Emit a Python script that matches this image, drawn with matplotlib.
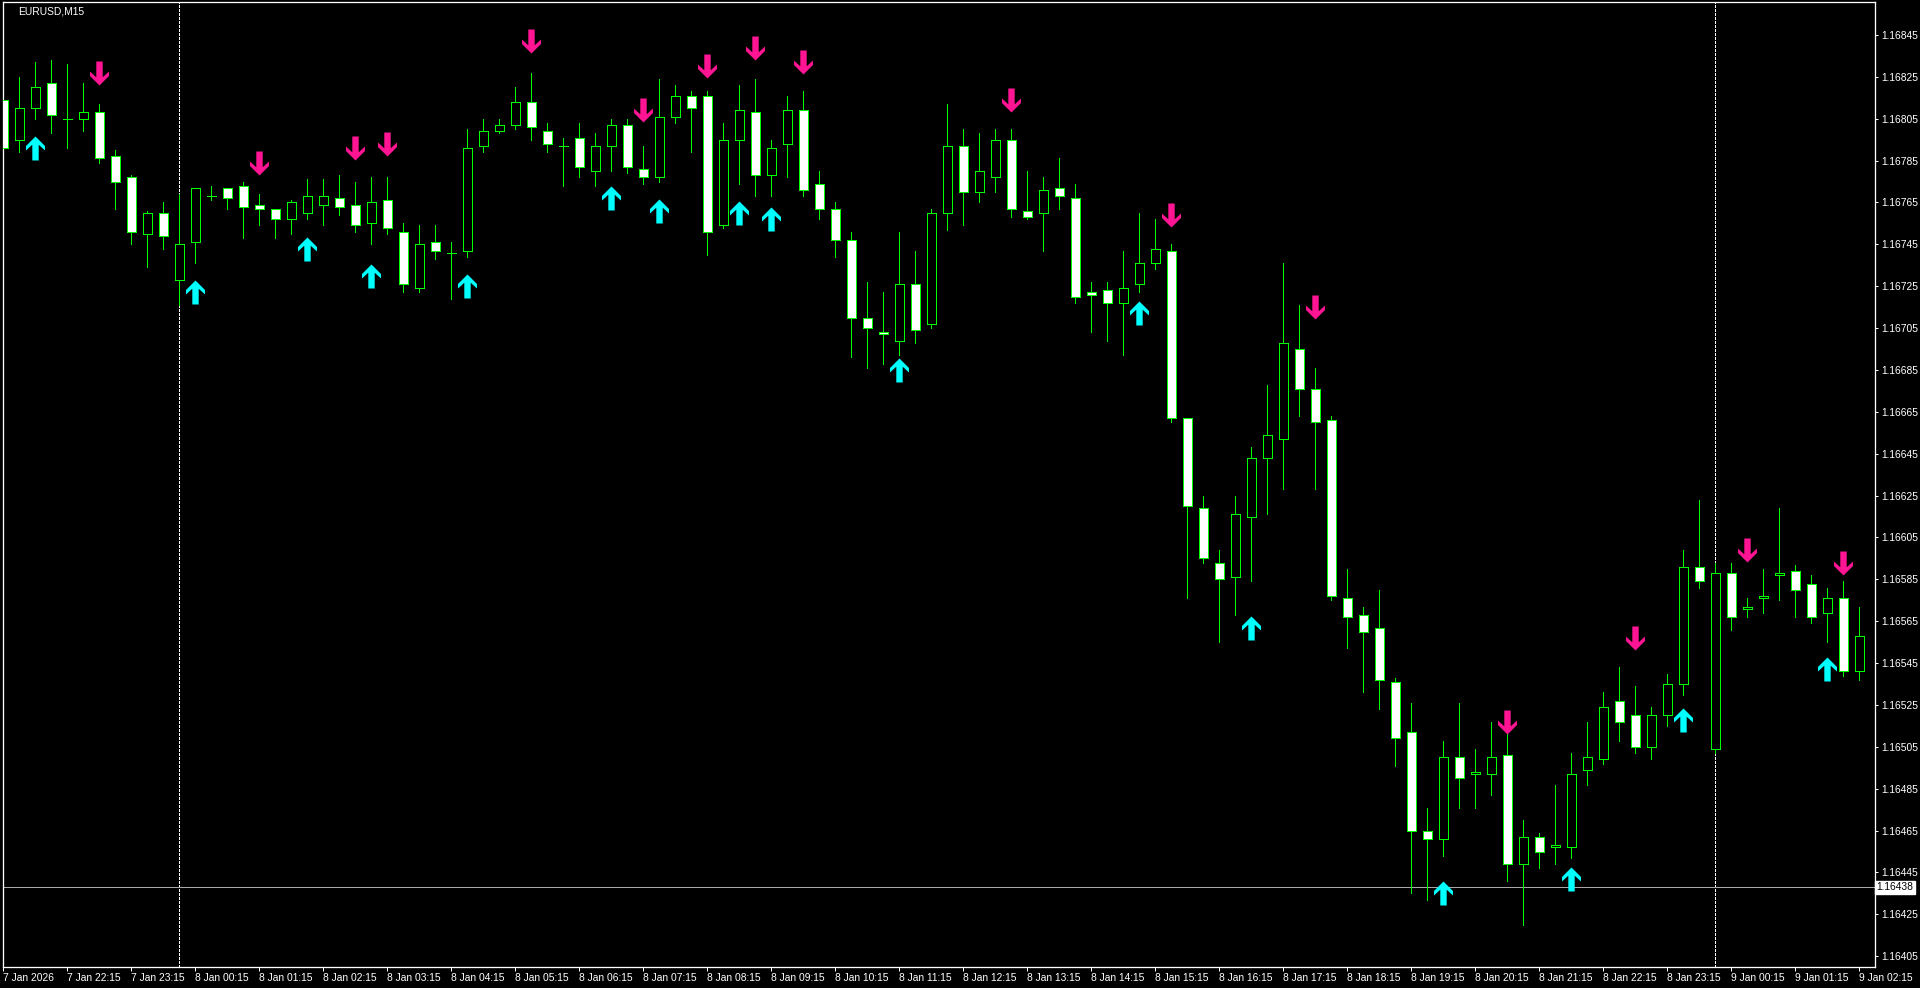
import matplotlib
matplotlib.use('Agg')
import matplotlib.pyplot as plt
import matplotlib.transforms as mtransforms
from matplotlib.patches import Rectangle
from matplotlib.path import Path

# EURUSD M15, 7 Jan 2026 21:15 .. 9 Jan 2026 02:15 (one value per bar)
opens = [
    1.16814, 1.16795, 1.16810, 1.16822, 1.16805, 1.16805, 1.16808, 1.16787, 1.16777, 1.16750,
    1.16760, 1.16728, 1.16746, 1.16768, 1.16772, 1.16773, 1.16764, 1.16762, 1.16757, 1.16760,
    1.16764, 1.16767, 1.16764, 1.16755, 1.16766, 1.16751, 1.16724, 1.16746, 1.16741, 1.16742,
    1.16792, 1.16799, 1.16802, 1.16813, 1.16799, 1.16792, 1.16796, 1.16780, 1.16792, 1.16802,
    1.16781, 1.16777, 1.16806, 1.16816, 1.16816, 1.16754, 1.16795, 1.16808, 1.16778, 1.16793,
    1.16809, 1.16774, 1.16762, 1.16747, 1.16710, 1.16703, 1.16699, 1.16726, 1.16707, 1.16760,
    1.16792, 1.16770, 1.16777, 1.16795, 1.16761, 1.16760, 1.16772, 1.16767, 1.16722, 1.16723,
    1.16717, 1.16726, 1.16736, 1.16742, 1.16662, 1.16619, 1.16593, 1.16586, 1.16615, 1.16643,
    1.16652, 1.16695, 1.16676, 1.16661, 1.16576, 1.16568, 1.16562, 1.16536, 1.16512, 1.16465,
    1.16461, 1.16500, 1.16492, 1.16492, 1.16501, 1.16449, 1.16462, 1.16457, 1.16457, 1.16494,
    1.16499, 1.16527, 1.16520, 1.16505, 1.16520, 1.16535, 1.16591, 1.16504, 1.16588, 1.16571,
    1.16576, 1.16587, 1.16589, 1.16583, 1.16569, 1.16576, 1.16541]
highs = [
    1.16816, 1.16825, 1.16832, 1.16833, 1.16831, 1.16822, 1.16812, 1.16790, 1.16778, 1.16761,
    1.16765, 1.16769, 1.16772, 1.16773, 1.16772, 1.16775, 1.16769, 1.16762, 1.16766, 1.16776,
    1.16776, 1.16778, 1.16775, 1.16777, 1.16777, 1.16755, 1.16754, 1.16754, 1.16746, 1.16800,
    1.16805, 1.16805, 1.16820, 1.16827, 1.16803, 1.16796, 1.16803, 1.16798, 1.16805, 1.16805,
    1.16792, 1.16824, 1.16821, 1.16818, 1.16818, 1.16803, 1.16821, 1.16824, 1.16795, 1.16816,
    1.16818, 1.16780, 1.16765, 1.16751, 1.16727, 1.16722, 1.16751, 1.16742, 1.16762, 1.16812,
    1.16800, 1.16798, 1.16800, 1.16800, 1.16780, 1.16777, 1.16786, 1.16774, 1.16727, 1.16727,
    1.16742, 1.16760, 1.16757, 1.16745, 1.16662, 1.16625, 1.16599, 1.16625, 1.16648, 1.16678,
    1.16736, 1.16716, 1.16686, 1.16663, 1.16590, 1.16572, 1.16580, 1.16538, 1.16526, 1.16476,
    1.16508, 1.16526, 1.16504, 1.16517, 1.16511, 1.16470, 1.16464, 1.16487, 1.16502, 1.16517,
    1.16531, 1.16543, 1.16534, 1.16524, 1.16540, 1.16599, 1.16623, 1.16593, 1.16593, 1.16576,
    1.16590, 1.16619, 1.16592, 1.16587, 1.16581, 1.16584, 1.16572]
lows = [
    1.16783, 1.16789, 1.16805, 1.16798, 1.16791, 1.16799, 1.16784, 1.16762, 1.16745, 1.16734,
    1.16743, 1.16716, 1.16736, 1.16766, 1.16762, 1.16748, 1.16754, 1.16748, 1.16750, 1.16757,
    1.16754, 1.16759, 1.16751, 1.16745, 1.16750, 1.16722, 1.16722, 1.16738, 1.16719, 1.16739,
    1.16789, 1.16798, 1.16800, 1.16795, 1.16789, 1.16773, 1.16777, 1.16773, 1.16780, 1.16779,
    1.16774, 1.16775, 1.16803, 1.16789, 1.16740, 1.16753, 1.16774, 1.16768, 1.16768, 1.16777,
    1.16768, 1.16757, 1.16739, 1.16691, 1.16686, 1.16688, 1.16692, 1.16698, 1.16705, 1.16752,
    1.16754, 1.16765, 1.16770, 1.16758, 1.16757, 1.16742, 1.16762, 1.16717, 1.16703, 1.16699,
    1.16692, 1.16722, 1.16733, 1.16660, 1.16576, 1.16593, 1.16555, 1.16568, 1.16584, 1.16616,
    1.16628, 1.16663, 1.16628, 1.16575, 1.16552, 1.16531, 1.16523, 1.16496, 1.16435, 1.16432,
    1.16453, 1.16476, 1.16476, 1.16482, 1.16441, 1.16420, 1.16447, 1.16449, 1.16452, 1.16487,
    1.16497, 1.16508, 1.16502, 1.16499, 1.16515, 1.16530, 1.16581, 1.16502, 1.16561, 1.16567,
    1.16569, 1.16575, 1.16567, 1.16564, 1.16555, 1.16539, 1.16537]
closes = [
    1.16791, 1.16810, 1.16820, 1.16807, 1.16805, 1.16808, 1.16786, 1.16775, 1.16751, 1.16760,
    1.16749, 1.16745, 1.16772, 1.16768, 1.16767, 1.16763, 1.16762, 1.16757, 1.16765, 1.16768,
    1.16768, 1.16763, 1.16754, 1.16765, 1.16753, 1.16726, 1.16745, 1.16742, 1.16741, 1.16791,
    1.16799, 1.16802, 1.16813, 1.16801, 1.16793, 1.16792, 1.16782, 1.16792, 1.16802, 1.16782,
    1.16777, 1.16806, 1.16816, 1.16810, 1.16751, 1.16795, 1.16809, 1.16778, 1.16791, 1.16809,
    1.16771, 1.16762, 1.16747, 1.16710, 1.16705, 1.16702, 1.16726, 1.16704, 1.16760, 1.16792,
    1.16770, 1.16780, 1.16795, 1.16762, 1.16758, 1.16771, 1.16768, 1.16720, 1.16721, 1.16717,
    1.16724, 1.16736, 1.16743, 1.16662, 1.16620, 1.16595, 1.16585, 1.16616, 1.16643, 1.16654,
    1.16698, 1.16676, 1.16660, 1.16577, 1.16567, 1.16560, 1.16537, 1.16509, 1.16465, 1.16461,
    1.16500, 1.16490, 1.16493, 1.16500, 1.16449, 1.16462, 1.16455, 1.16458, 1.16492, 1.16500,
    1.16524, 1.16517, 1.16505, 1.16520, 1.16535, 1.16591, 1.16584, 1.16588, 1.16567, 1.16572,
    1.16577, 1.16588, 1.16580, 1.16567, 1.16576, 1.16541, 1.16558]

# signal arrows: bar index and price level
sell_bars = [6, 16, 22, 24, 33, 40, 44, 47, 50, 63, 73, 82, 94, 102, 109, 115]
sell_price = [1.16827, 1.16784, 1.16791, 1.16793, 1.16842, 1.16809, 1.16830, 1.16839,
              1.16832, 1.16814, 1.16759, 1.16715, 1.16517, 1.16557, 1.16599, 1.16593]
buy_bars = [2, 12, 19, 23, 29, 38, 41, 46, 48, 56, 71, 78, 90, 98, 105, 114]
buy_price = [1.16791, 1.16722, 1.16743, 1.16730, 1.16725, 1.16767, 1.16761, 1.16760,
             1.16757, 1.16685, 1.16712, 1.16562, 1.16435, 1.16442, 1.16518, 1.16542]

time_labels = ['7 Jan 2026', '7 Jan 22:15', '7 Jan 23:15', '8 Jan 00:15', '8 Jan 01:15',
               '8 Jan 02:15', '8 Jan 03:15', '8 Jan 04:15', '8 Jan 05:15', '8 Jan 06:15',
               '8 Jan 07:15', '8 Jan 08:15', '8 Jan 09:15', '8 Jan 10:15', '8 Jan 11:15',
               '8 Jan 12:15', '8 Jan 13:15', '8 Jan 14:15', '8 Jan 15:15', '8 Jan 16:15',
               '8 Jan 17:15', '8 Jan 18:15', '8 Jan 19:15', '8 Jan 20:15', '8 Jan 21:15',
               '8 Jan 22:15', '8 Jan 23:15', '9 Jan 00:15', '9 Jan 01:15', '9 Jan 02:15']
price_ticks = [1.16405, 1.16425, 1.16445, 1.16465, 1.16485, 1.16505, 1.16525, 1.16545,
               1.16565, 1.16585, 1.16605, 1.16625, 1.16645, 1.16665, 1.16685, 1.16705,
               1.16725, 1.16745, 1.16765, 1.16785, 1.16805, 1.16825, 1.16845]
day_starts = [11, 107]   # 8 Jan 00:00, 9 Jan 00:00
hline_price = 1.16438

W, H = 1920, 988
PX = 0.72  # one pixel in points at dpi 100
GREEN = '#00FF00'
FS = 7.4

plt.rcParams['font.family'] = ['Liberation Sans', 'DejaVu Sans']
fig = plt.figure(figsize=(W / 100, H / 100), dpi=100, facecolor='black')
ax = fig.add_axes([2.5 / W, 1 - 966.7 / H, (1874.7 - 2.5) / W, (966.7 - 2.3) / H])
ax.set_facecolor('black')
ax.set_xlim(-0.05, 116.96)
ax.set_ylim(1.16400, 1.168606)

bw = 9 / 16
for i in range(len(opens)):
    o, h, l, c = opens[i], highs[i], lows[i], closes[i]
    ax.vlines(i, l, h, color=GREEN, lw=PX, zorder=2, antialiased=False)
    if abs(c - o) < 1e-7:
        ax.hlines(o, i - bw / 2, i + bw / 2, color=GREEN, lw=PX, zorder=3, antialiased=False)
    else:
        face = 'black' if c > o else 'white'
        ax.add_patch(Rectangle((i - bw / 2, min(o, c)), bw, abs(c - o), facecolor=face,
                               edgecolor=GREEN, lw=PX, zorder=3, antialiased=False))

for d in day_starts:
    ax.axvline(d, color='white', lw=1.4 * PX, ls=(0, (3.5 * PX / 1.4, 2.5 * PX / 1.4)),
               zorder=1, antialiased=False)
ax.axhline(hline_price, color='#A8A8A8', lw=PX, zorder=1)

up_verts = [(0, 12), (9.5, 2.5), (9.5, -2), (3.2, 3.8), (3.2, -12), (-3.2, -12),
            (-3.2, 3.8), (-9.5, -2), (-9.5, 2.5), (0, 12)]
codes = [Path.MOVETO] + [Path.LINETO] * (len(up_verts) - 2) + [Path.CLOSEPOLY]
up_arrow = Path(up_verts, codes)
down_arrow = Path([(x, -y) for x, y in up_verts], codes)
ax.plot(sell_bars, sell_price, ls='none', marker=down_arrow, markersize=24 * PX,
        color='#FF1493', mew=0, zorder=4)
ax.plot(buy_bars, buy_price, ls='none', marker=up_arrow, markersize=24 * PX,
        color='#00FFFF', mew=0, zorder=4)

for s in ax.spines.values():
    s.set_color('white')
    s.set_linewidth(1.3 * PX)

ax.set_xticks(range(0, 117, 4))
ax.set_xticklabels(time_labels, ha='left')
ax.yaxis.tick_right()
ax.set_yticks(price_ticks)
ax.set_yticklabels(['%.5f' % p for p in price_ticks])
ax.tick_params(axis='x', colors='white', length=3, width=PX, pad=1.5, labelsize=FS)
ax.tick_params(axis='y', colors='white', length=2, width=PX, pad=3, labelsize=FS)

trans = mtransforms.blended_transform_factory(ax.transAxes, ax.transData)
ax.text(1.0009, hline_price, '%.5f' % hline_price, transform=trans, ha='left', va='center',
        fontsize=FS, color='black',
        bbox=dict(facecolor='white', edgecolor='white', boxstyle='square,pad=0.15'))

fig.text(18 / W, 1 - 6 / H, 'EURUSD,M15', color='white', fontsize=FS, ha='left', va='top')

fig.savefig('out.png', dpi=100, facecolor='black')
